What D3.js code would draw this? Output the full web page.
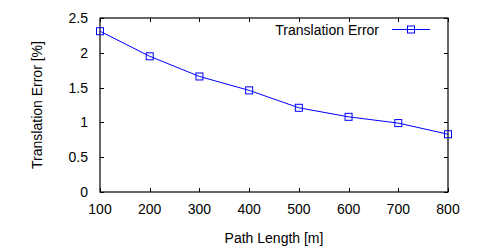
<!DOCTYPE html>
<html>
<head>
<meta charset="utf-8">
<script src="https://cdn.jsdelivr.net/npm/d3@7"></script>
<style>
  body { margin: 0; background: #fff; }
  text { font-family: "Liberation Sans", Arial, sans-serif; font-size: 14px; fill: #000; }
</style>
</head>
<body>
<svg></svg>
<script>
var pathLength = [100, 200, 300, 400, 500, 600, 700, 800];
var transError = [2.31, 1.95, 1.66, 1.46, 1.21, 1.08, 0.99, 0.83];
var yTicks = [0, 0.5, 1, 1.5, 2, 2.5];
var xTicks = [100, 200, 300, 400, 500, 600, 700, 800];
var seriesName = "Translation Error";

var svgWidth = 500, svgHeight = 250;
var plotL = 100, plotR = 448, plotT = 18, plotB = 192;

var svg = d3.select("svg")
    .attr("width", svgWidth)
    .attr("height", svgHeight);

var x = d3.scaleLinear().domain([100, 800]).range([plotL, plotR]);
var y = d3.scaleLinear().domain([0, 2.5]).range([plotB, plotT]);

var tick = 4;

// frame
svg.append("rect")
    .attr("x", plotL).attr("y", plotT)
    .attr("width", plotR - plotL).attr("height", plotB - plotT)
    .attr("fill", "none").attr("stroke", "#000").attr("stroke-width", 1.2);

// y ticks (left and right, inward)
yTicks.forEach(function(v) {
  var yy = Math.round(y(v)) + 0.5;
  svg.append("line").attr("x1", plotL).attr("x2", plotL + tick)
      .attr("y1", yy).attr("y2", yy).attr("stroke", "#000");
  svg.append("line").attr("x1", plotR).attr("x2", plotR - tick)
      .attr("y1", yy).attr("y2", yy).attr("stroke", "#000");
  svg.append("text")
      .attr("x", plotL - 12).attr("y", y(v) + 5)
      .attr("text-anchor", "end")
      .text(v);
});

// x ticks (bottom and top, inward)
xTicks.forEach(function(v) {
  var xx = Math.round(x(v)) + 0.5;
  svg.append("line").attr("x1", xx).attr("x2", xx)
      .attr("y1", plotB).attr("y2", plotB - tick).attr("stroke", "#000");
  svg.append("line").attr("x1", xx).attr("x2", xx)
      .attr("y1", plotT).attr("y2", plotT + tick).attr("stroke", "#000");
  svg.append("text")
      .attr("x", x(v)).attr("y", plotB + 22)
      .attr("text-anchor", "middle")
      .text(v);
});

// axis labels
svg.append("text")
    .attr("x", (plotL + plotR) / 2).attr("y", 243)
    .attr("text-anchor", "middle")
    .text("Path Length [m]");

svg.append("text")
    .attr("transform", "translate(42," + ((plotT + plotB) / 2) + ") rotate(-90)")
    .attr("text-anchor", "middle")
    .text("Translation Error [%]");

// series
var data = pathLength.map(function(d, i) { return {x: d, y: transError[i]}; });

var line = d3.line()
    .x(function(d) { return x(d.x); })
    .y(function(d) { return y(d.y); });

svg.append("path")
    .datum(data)
    .attr("d", line)
    .attr("fill", "none")
    .attr("stroke", "#0000ff")
    .attr("stroke-width", 1);

var ms = 7;
svg.selectAll(".pt")
    .data(data)
    .enter()
    .append("rect")
    .attr("class", "pt")
    .attr("x", function(d) { return x(d.x) - ms / 2; })
    .attr("y", function(d) { return y(d.y) - ms / 2; })
    .attr("width", ms).attr("height", ms)
    .attr("fill", "none")
    .attr("stroke", "#0000ff")
    .attr("stroke-width", 1);

// legend
svg.append("text")
    .attr("x", 379).attr("y", 34.5)
    .attr("text-anchor", "end")
    .text(seriesName);
svg.append("line")
    .attr("x1", 392).attr("x2", 430)
    .attr("y1", 29.5).attr("y2", 29.5)
    .attr("stroke", "#0000ff");
svg.append("rect")
    .attr("x", 411 - ms / 2).attr("y", 29.5 - ms / 2)
    .attr("width", ms).attr("height", ms)
    .attr("fill", "none").attr("stroke", "#0000ff");
</script>
</body>
</html>
